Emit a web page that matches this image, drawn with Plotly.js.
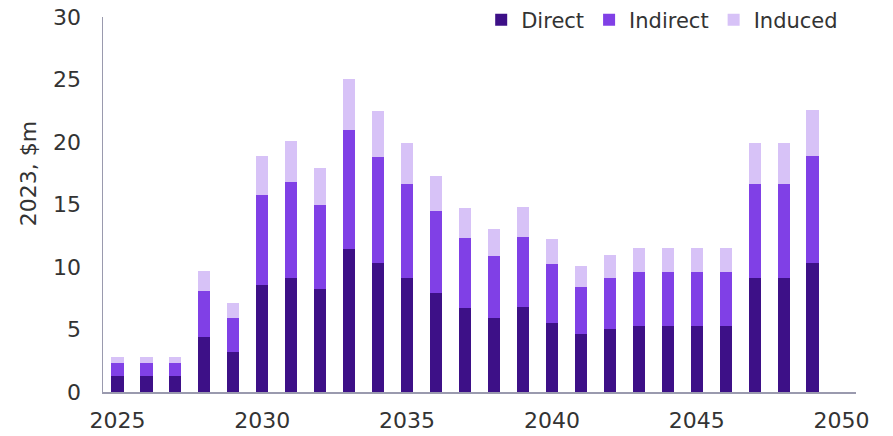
<!DOCTYPE html>
<html>
<head>
<meta charset="utf-8">
<script src="https://cdn.plot.ly/plotly-3.0.1.min.js"></script>
<style>html,body{margin:0;padding:0;background:#fff;}#chart{width:893px;height:436px;}</style>
</head>
<body>
<div id="chart"></div>
<script>
const years = [2025,2026,2027,2028,2029,2030,2031,2032,2033,2034,2035,2036,2037,2038,2039,2040,2041,2042,2043,2044,2045,2046,2047,2048,2049];
const direct   = [1.28,1.28,1.28,4.43,3.23,8.59,9.15,8.21,11.47,10.29,9.09,7.89,6.75,5.96,6.77,5.55,4.61,5.01,5.25,5.25,5.25,5.25,9.12,9.12,10.32];
const indirect = [1.07,1.07,1.07,3.68,2.69,7.20,7.65,6.78,9.46,8.48,7.52,6.59,5.57,4.94,5.60,4.66,3.82,4.14,4.38,4.38,4.38,4.38,7.55,7.55,8.59];
const induced  = [0.48,0.48,0.48,1.57,1.17,3.09,3.28,2.93,4.08,3.68,3.28,2.80,2.43,2.14,2.43,2.00,1.68,1.81,1.86,1.86,1.86,1.86,3.25,3.25,3.68];
const seriesNames = ["Direct","Indirect","Induced"];
const colors = ["#3d1087","#8040e6","#d7c2f7"];
const tickVals = [2025,2030,2035,2040,2045,2050];
const yTicks = [0,5,10,15,20,25,30];

const font = "DejaVu Sans";
const textColor = "#333333";
const axisColor = "#9a9aae";

const traces = [direct, indirect, induced].map((vals, i) => ({
  type: "bar",
  x: years,
  y: vals,
  name: seriesNames[i],
  width: 0.42,
  marker: {color: colors[i], line: {width: 0}},
  hoverinfo: "x+y+name"
}));

const layout = {
  width: 893, height: 436,
  barmode: "stack",
  paper_bgcolor: "#ffffff",
  plot_bgcolor: "#ffffff",
  margin: {l: 103, r: 37, t: 17, b: 44, autoexpand: false},
  font: {family: font, color: textColor, size: 22},
  xaxis: {
    range: [2024.5, 2050.5],
    tickvals: tickVals,
    ticktext: tickVals.map(String),
    showline: true, linecolor: axisColor, linewidth: 1.5,
    showgrid: false, zeroline: false,
    ticks: "", ticklabelstandoff: 8,
    automargin: false,
    tickfont: {family: font, size: 22, color: textColor}
  },
  yaxis: {
    range: [0, 30],
    tickvals: yTicks,
    showline: true, linecolor: axisColor, linewidth: 1.5,
    showgrid: false, zeroline: false,
    ticks: "", ticklabelstandoff: 16,
    automargin: false,
    tickfont: {family: font, size: 22, color: textColor}
  },
  showlegend: true,
  legend: {
    orientation: "h",
    x: 0.983, xanchor: "right",
    y: 0.992, yanchor: "middle",
    font: {family: font, size: 21, color: textColor},
    traceorder: "normal",
    itemwidth: 30,
    bgcolor: "rgba(0,0,0,0)"
  },
  annotations: [{
    text: "2023, $m",
    xref: "paper", yref: "paper",
    x: -0.0996, y: 0.581,
    xanchor: "center", yanchor: "middle",
    textangle: -90,
    showarrow: false,
    font: {family: font, size: 22, color: textColor}
  }]
};

Plotly.newPlot("chart", traces, layout, {displayModeBar: false, staticPlot: true});
</script>
</body>
</html>
